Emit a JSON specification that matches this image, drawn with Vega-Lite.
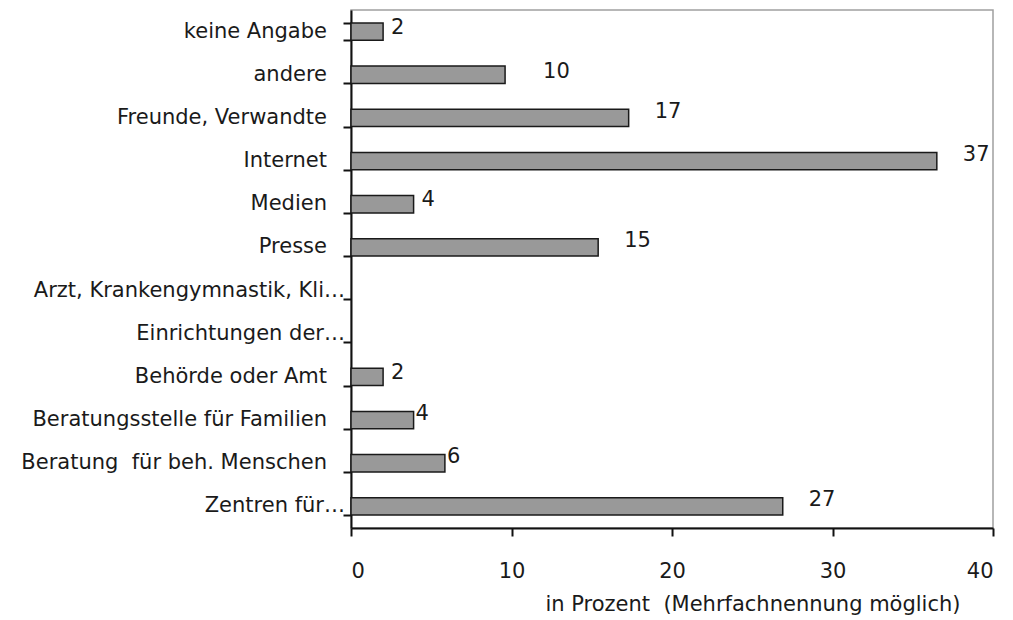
{
  "$schema": "https://vega.github.io/schema/vega-lite/v6.json",
  "width": 642,
  "height": 518,
  "autosize": {"type": "none"},
  "padding": {"left": 351, "top": 10, "right": 20, "bottom": 92},
  "background": "white",
  "config": {
    "font": "DejaVu Sans",
    "view": {"stroke": "#a0a0a0", "strokeWidth": 1.5}
  },
  "data": {
    "values": [
      {"cat": "keine Angabe", "value": 2.0, "label": "2"},
      {"cat": "andere", "value": 9.6, "label": "10"},
      {"cat": "Freunde, Verwandte", "value": 17.3, "label": "17"},
      {"cat": "Internet", "value": 36.5, "label": "37"},
      {"cat": "Medien", "value": 3.9, "label": "4"},
      {"cat": "Presse", "value": 15.4, "label": "15"},
      {"cat": "Arzt, Krankengymnastik, Kli…", "value": 0, "label": ""},
      {"cat": "Einrichtungen der…", "value": 0, "label": ""},
      {"cat": "Behörde oder Amt", "value": 2.0, "label": "2"},
      {"cat": "Beratungsstelle für Familien", "value": 3.9, "label": "4"},
      {"cat": "Beratung\u00a0 für beh. Menschen", "value": 5.85, "label": "6"},
      {"cat": "Zentren für…", "value": 26.9, "label": "27"}
    ]
  },
  "encoding": {
    "y": {
      "field": "cat",
      "type": "nominal",
      "sort": null,
      "scale": {
        "domain": ["keine Angabe", "andere", "Freunde, Verwandte", "Internet", "Medien", "Presse", "Arzt, Krankengymnastik, Kli…", "Einrichtungen der…", "Behörde oder Amt", "Beratungsstelle für Familien", "Beratung\u00a0 für beh. Menschen", "Zentren für…"],
        "paddingInner": 0.6,
        "paddingOuter": 0.3
      },
      "axis": {
        "title": null,
        "tickBand": "extent",
        "domainColor": "#111",
        "domainWidth": 2,
        "tickColor": "#111",
        "tickWidth": 2,
        "tickSize": 8,
        "labels": false
      }
    },
    "x": {
      "field": "value",
      "type": "quantitative",
      "scale": {"domain": [0, 40], "nice": false},
      "axis": {
        "values": [0, 10, 20, 30, 40],
        "grid": false,
        "title": "in Prozent \u00a0(Mehrfachnennung möglich)",
        "titleFontSize": 21,
        "titleFontWeight": "normal",
        "titleColor": "#1a1a1a",
        "titleAnchor": "end",
        "titleAlign": "right",
        "titleX": 609,
        "titlePadding": 12,
        "domainColor": "#111",
        "domainWidth": 2,
        "tickColor": "#111",
        "tickWidth": 2,
        "tickSize": 8,
        "labelFontSize": 21,
        "labelColor": "#1a1a1a",
        "labelPadding": 24
      }
    }
  },
  "layer": [
    {
      "mark": {"type": "bar", "fill": "#999999", "stroke": "#1a1a1a", "strokeWidth": 1.5},
      "transform": [{"filter": "datum.value > 0"}]
    },
    {
      "transform": [{"filter": "indexof(datum.cat, '…') < 0"}],
      "mark": {"type": "text", "align": "right", "baseline": "middle", "dx": -24, "fontSize": 21, "color": "#1a1a1a"},
      "encoding": {"x": {"datum": 0}, "text": {"field": "cat"}}
    },
    {
      "transform": [{"filter": "indexof(datum.cat, '…') >= 0"}],
      "mark": {"type": "text", "align": "right", "baseline": "middle", "dx": -6, "fontSize": 21, "color": "#1a1a1a"},
      "encoding": {"x": {"datum": 0}, "text": {"field": "cat"}}
    },
    {
      "transform": [{"filter": "indexof(['Beratungsstelle für Familien','Beratung\u00a0 für beh. Menschen'], datum.cat) >= 0"}],
      "mark": {"type": "text", "align": "left", "baseline": "middle", "dx": 2, "dy": -6, "fontSize": 21, "color": "#1a1a1a"},
      "encoding": {"text": {"field": "label"}}
    },
    {
      "transform": [{"filter": "indexof(['keine Angabe','Medien','Behörde oder Amt'], datum.cat) >= 0"}],
      "mark": {"type": "text", "align": "left", "baseline": "middle", "dx": 8, "dy": -4, "fontSize": 21, "color": "#1a1a1a"},
      "encoding": {"text": {"field": "label"}}
    },
    {
      "transform": [{"filter": "indexof(['Freunde, Verwandte','Internet','Presse','Zentren für…'], datum.cat) >= 0"}],
      "mark": {"type": "text", "align": "left", "baseline": "middle", "dx": 26, "dy": -6, "fontSize": 21, "color": "#1a1a1a"},
      "encoding": {"text": {"field": "label"}}
    },
    {
      "transform": [{"filter": "datum.cat == 'andere'"}],
      "mark": {"type": "text", "align": "left", "baseline": "middle", "dx": 38, "dy": -3, "fontSize": 21, "color": "#1a1a1a"},
      "encoding": {"text": {"field": "label"}}
    }
  ]
}
